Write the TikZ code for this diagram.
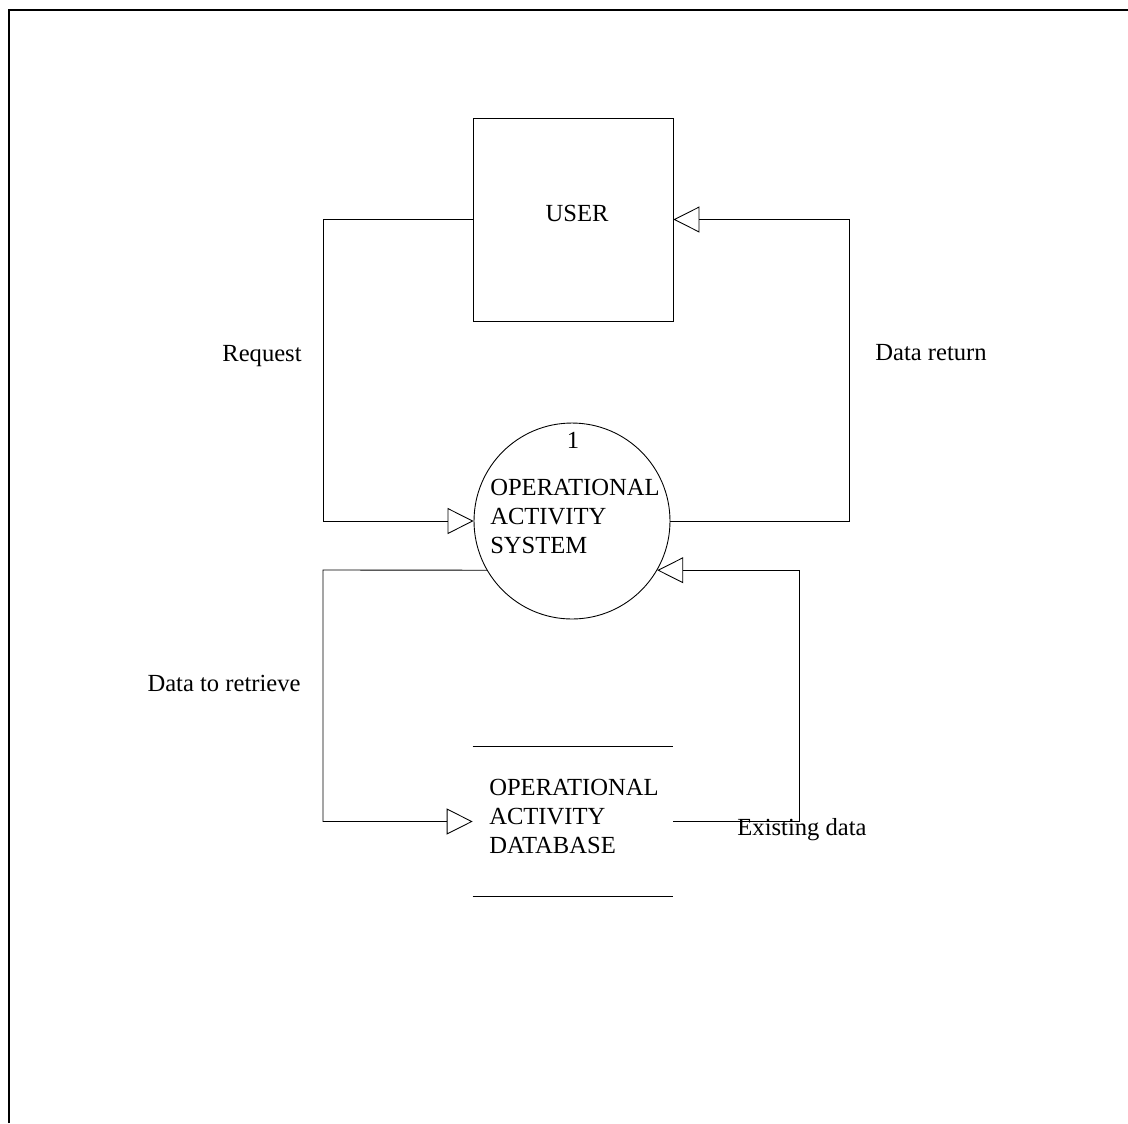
\documentclass[tikz,border=0pt]{standalone}
\usepackage{fontspec}
\setmainfont{Liberation Serif}
\usetikzlibrary{arrows.meta,positioning}

\begin{document}
\begin{tikzpicture}[
    x=0.02cm, y=-0.02cm,
    >={Triangle[open,length=0.52cm,width=0.52cm]},
    every node/.style={font=\fontsize{14pt}{16.5pt}\selectfont},
    ent/.style={
        draw,
        rectangle,
        line width=0.5pt,
        minimum width=4cm,
        minimum height=4.06cm
    },
    proc/.style={
        draw,
        circle,
        line width=0.5pt,
        minimum size=3.92cm
    },
    store/.style={
        rectangle,
        minimum width=4cm,
        minimum height=2.98cm
    },
    flow/.style={->, line width=0.5pt}
]
\useasboundingbox (0,0) rectangle (1128,1123);

% frame
\draw[line width=1.2pt] (9,1123) -- (9,10) -- (1128,10);

\node[ent]  (user) at (573,219.5) {};
\node (usertext) at (577,213) {USER};

\node[proc] (oas) at (572,521) {};
\node (num) at (573,440) {1};
\node[align=left] (oastext) at (575,516) {OPERATIONAL\\ACTIVITY\\SYSTEM};

\node[store] (db) at (573,821.5) {};
\node[align=left] (dbtext) at (574,816) {OPERATIONAL\\ACTIVITY\\DATABASE};
\draw[line width=0.5pt] (db.north west) -- (db.north east);
\draw[line width=0.5pt] (db.south west) -- (db.south east);

\draw[flow] (user.west) -- (323,219.5) |- (oas.west);
\draw[flow] (oas.east) -- (849,521) |- (user.east);
\draw[flow] (oas.210) -- (323,570) |- (db.west);
\draw[flow] (db.east) -- (799,821.5) |- (oas.330);

\node (req)  at (262,356) {Request};
\node (ret)  at (931,353) {Data return};
\node (retr) at (224,683) {Data to retrieve};
\node (ex)   at (802,830) {Existing data};

\end{tikzpicture}
\end{document}
